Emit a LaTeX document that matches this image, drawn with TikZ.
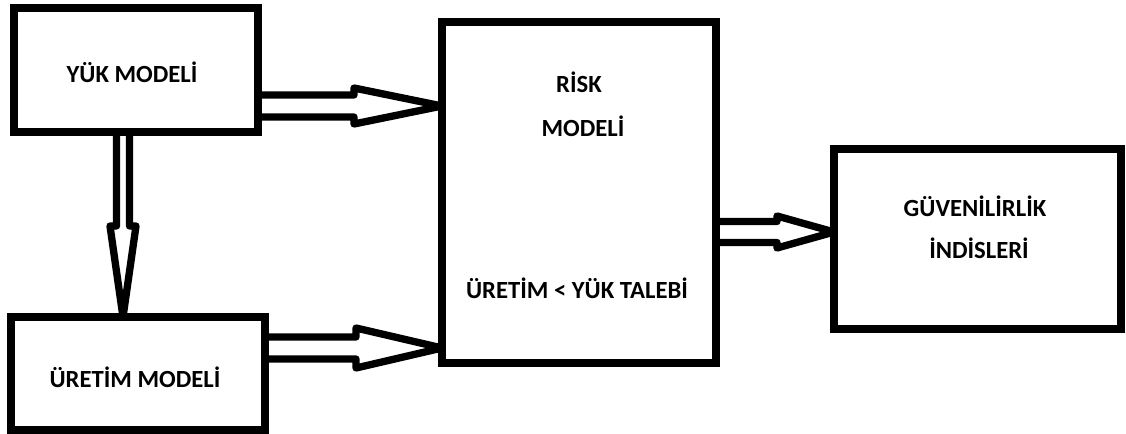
\documentclass[tikz,border=0pt]{standalone}
\usepackage{fontspec}
\setmainfont{Carlito}
\usetikzlibrary{calc}

\tikzset{every picture/.style={line width=6pt}}
\tikzset{box/.style={draw, rectangle, outer sep=0pt, inner sep=0pt},
  lbl/.style={anchor=base, inner sep=0.75pt, font=\fontsize{18.5}{22}\selectfont\bfseries},
  hollow/.style={line width=5.5pt, line join=round}}

\begin{document}
\begin{tikzpicture}[x=0.75pt,y=0.75pt,yscale=-1,xscale=1]
    \useasboundingbox (0,0) rectangle (1126,434);

    %Shape: Rectangle [yuk]
    \node[box, minimum width=183pt, minimum height=93pt] (yuk) at (136,70) {};
    %Shape: Rectangle [uretim]
    \node[box, minimum width=190.5pt, minimum height=84.75pt] (uretim) at (138,373.5) {};
    %Shape: Rectangle [risk]
    \node[box, minimum width=205.5pt, minimum height=255.75pt] (risk) at (579,192.5) {};
    %Shape: Rectangle [guven]
    \node[box, minimum width=215.25pt, minimum height=135pt] (guven) at (977.5,239) {};

    %Arrow ends
    \coordinate (a1s) at (yuk.east |- 0,106);
    \coordinate (a1e) at (risk.west |- 0,106);
    \coordinate (a2s) at (yuk.south -| 123,0);
    \coordinate (a2e) at (uretim.north -| 123,0);
    \coordinate (a3s) at (uretim.east |- 0,348);
    \coordinate (a3e) at (risk.west |- 0,348);
    \coordinate (a4s) at (risk.east |- 0,232);
    \coordinate (a4e) at (guven.west |- 0,232);

    %Shape: Hollow Arrow [yuk -> risk]
    \draw[hollow] ($(a1s)+(0,-11)$) -- ($(a1e)+(-88,-11)$) -- ($(a1e)+(-88,-18)$) -- (a1e) -- ($(a1e)+(-88,18)$) -- ($(a1e)+(-88,11)$) -- ($(a1s)+(0,11)$) ;
    %Shape: Hollow Arrow [yuk -> uretim]
    \draw[hollow] ($(a2s)+(-6.5,0)$) -- ($(a2e)+(-6.5,-91)$) -- ($(a2e)+(-13,-91)$) -- (a2e) -- ($(a2e)+(13,-91)$) -- ($(a2e)+(6.5,-91)$) -- ($(a2s)+(6.5,0)$) ;
    %Shape: Hollow Arrow [uretim -> risk]
    \draw[hollow] ($(a3s)+(0,-11)$) -- ($(a3e)+(-86,-11)$) -- ($(a3e)+(-86,-20)$) -- (a3e) -- ($(a3e)+(-86,20)$) -- ($(a3e)+(-86,11)$) -- ($(a3s)+(0,11)$) ;
    %Shape: Hollow Arrow [risk -> guven]
    \draw[hollow] ($(a4s)+(0,-10.5)$) -- ($(a4e)+(-57,-10.5)$) -- ($(a4e)+(-57,-16)$) -- (a4e) -- ($(a4e)+(-57,16)$) -- ($(a4e)+(-57,10.5)$) -- ($(a4s)+(0,10.5)$) ;

    % Text Node
    \node[lbl] (yuklbl) at (132,83) {YÜK MODELİ};
    % Text Node
    \node[lbl] (uretimlbl) at (135,387) {ÜRETİM MODELİ};
    % Text Node
    \node[lbl] (risklbl) at (579,93) {RİSK};
    % Text Node
    \node[lbl] (modellbl) at (583,137) {MODELİ};
    % Text Node
    \node[lbl] (talepl) at (577,298) {ÜRETİM < YÜK TALEBİ};
    % Text Node
    \node[lbl] (guvlbl) at (975,217) {GÜVENİLİRLİK};
    % Text Node
    \node[lbl] (indlbl) at (979,258) {İNDİSLERİ};

\end{tikzpicture}
\end{document}
